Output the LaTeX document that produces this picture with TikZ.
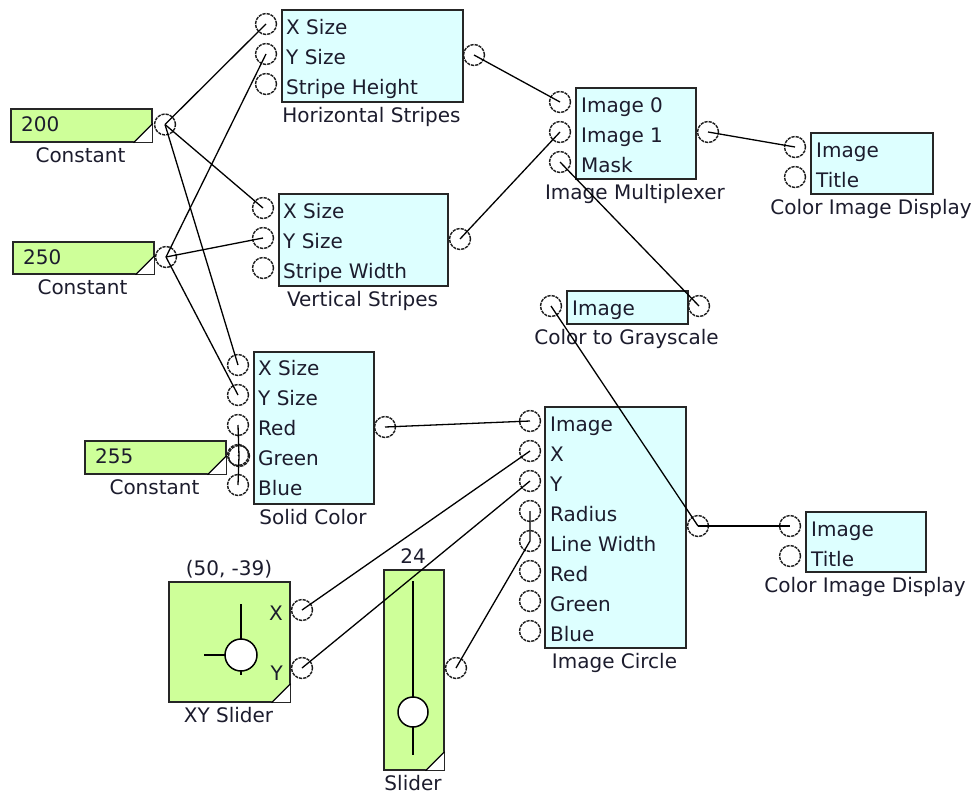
\documentclass[tikz,border=0pt]{standalone}
\usepackage{fontspec}
\setmainfont{DejaVu Sans}
\definecolor{boxcyan}{RGB}{221,255,255}
\definecolor{boxgreen}{RGB}{206,255,153}
\definecolor{ink}{RGB}{28,28,45}
\newcommand\cornertri[1]{%
  \fill[white] ([xshift=-19pt,yshift=0.8pt]#1.south east) -- ([xshift=-0.8pt,yshift=19pt]#1.south east) -- ([xshift=-0.8pt,yshift=0.8pt]#1.south east) -- cycle;
  \draw[line width=1.3pt] ([xshift=-19pt]#1.south east) -- ([yshift=19pt]#1.south east);}
\tikzset{
  every node/.style={font=\fontsize{20}{24}\selectfont, text=ink},
  fbox/.style={draw=black!85, line width=1.6pt, fill=boxcyan, anchor=north west, inner sep=0pt},
  gbox/.style={draw=black!85, line width=1.6pt, fill=boxgreen, anchor=north west, inner sep=0pt},
  port/.style={circle, draw=black!90, line width=1.4pt, dash pattern=on 3.2pt off 1pt, minimum size=21pt, inner sep=0pt},
  row/.style={anchor=base west, inner sep=0pt},
  lbl/.style={anchor=base, inner sep=0pt},
  wire/.style={draw=black, line width=1.3pt},
  knob/.style={circle, draw=black, line width=1.5pt, fill=white, inner sep=0pt},
}
\begin{document}
\begin{tikzpicture}[x=1pt,y=-1pt]
\useasboundingbox[fill=white] (0,0) rectangle (979,795);

% ---------- constants ----------
\node[gbox, minimum width=141pt, minimum height=33pt] (c200) at (10,108) {};
\node[row, anchor=west] (c200t) at (21,124.5) {200};
\cornertri{c200}
\node[lbl] (c200l) at (80.5,162.5) {Constant};
\node[port] (c200o) at (165,124.5) {};

\node[gbox, minimum width=141pt, minimum height=32pt] (c250) at (12,241) {};
\node[row, anchor=west] (c250t) at (23,257) {250};
\cornertri{c250}
\node[lbl] (c250l) at (82.5,294.5) {Constant};
\node[port] (c250o) at (166,257) {};

\node[gbox, minimum width=141pt, minimum height=33pt] (c255) at (84,440) {};
\node[row, anchor=west] (c255t) at (95,456.5) {255};
\cornertri{c255}
\node[lbl] (c255l) at (154.5,494.5) {Constant};
\node[port] (c255o) at (239,456) {};

% ---------- Horizontal Stripes ----------
\node[fbox, minimum width=181pt, minimum height=92pt] (hs) at (281,9) {};
\node[row] (hst1) at (286,34.5) {X Size};
\node[row] (hst2) at (286,64.5) {Y Size};
\node[row] (hst3) at (286,94.5) {Stripe Height};
\node[lbl] (hsl) at (371.5,122.5) {Horizontal Stripes};
\node[port] (hsx) at (266,24) {};
\node[port] (hsy) at (266,54) {};
\node[port] (hsh) at (266,84) {};
\node[port] (hso) at (474,55) {};

% ---------- Vertical Stripes ----------
\node[fbox, minimum width=169pt, minimum height=92pt] (vs) at (278,193) {};
\node[row] (vst1) at (283,218.5) {X Size};
\node[row] (vst2) at (283,248.5) {Y Size};
\node[row] (vst3) at (283,278.5) {Stripe Width};
\node[lbl] (vsl) at (362.5,306.5) {Vertical Stripes};
\node[port] (vsx) at (263,208) {};
\node[port] (vsy) at (263,238) {};
\node[port] (vsw) at (263,268) {};
\node[port] (vso) at (460,239) {};

% ---------- Image Multiplexer ----------
\node[fbox, minimum width=120pt, minimum height=91pt] (mux) at (575,87) {};
\node[row] (muxt1) at (581,112.5) {Image 0};
\node[row] (muxt2) at (581,142.5) {Image 1};
\node[row] (muxt3) at (581,172.5) {Mask};
\node[lbl] (muxl) at (635,199.5) {Image Multiplexer};
\node[port] (mux0) at (560,102) {};
\node[port] (mux1) at (560,132) {};
\node[port] (muxm) at (560,162) {};
\node[port] (muxo) at (708,132) {};

% ---------- Color Image Display 1 ----------
\node[fbox, minimum width=122pt, minimum height=61pt] (cida) at (810,132) {};
\node[row] (cidat1) at (816,157.5) {Image};
\node[row] (cidat2) at (816,187.5) {Title};
\node[lbl] (cidal) at (871,214.5) {Color Image Display};
\node[port] (cidai) at (795,147) {};
\node[port] (cidat) at (795,177) {};

% ---------- Color to Grayscale ----------
\node[fbox, minimum width=121pt, minimum height=33pt] (gray) at (566,290) {};
\node[row] (grayt) at (572,315.5) {Image};
\node[lbl] (grayl) at (626.5,344.5) {Color to Grayscale};
\node[port] (grayi) at (551,306) {};
\node[port] (grayo) at (699,306) {};

% ---------- Solid Color ----------
\node[fbox, minimum width=120pt, minimum height=152pt] (sc) at (253,351) {};
\node[row] (sct1) at (258,375.5) {X Size};
\node[row] (sct2) at (258,405.5) {Y Size};
\node[row] (sct3) at (258,435.5) {Red};
\node[row] (sct4) at (258,465.5) {Green};
\node[row] (sct5) at (258,495.5) {Blue};
\node[lbl] (scl) at (313,524.5) {Solid Color};
\node[port] (scx) at (238,365) {};
\node[port] (scy) at (238,395) {};
\node[port] (scr) at (238,425) {};
\node[port] (scg) at (238,455) {};
\node[port] (scb) at (238,485) {};
\node[port] (sco) at (385,427) {};

% ---------- Image Circle ----------
\node[fbox, minimum width=141pt, minimum height=241pt] (ic) at (544,406) {};
\node[row] (ict1) at (550,431.5) {Image};
\node[row] (ict2) at (550,461.5) {X};
\node[row] (ict3) at (550,491.5) {Y};
\node[row] (ict4) at (550,521.5) {Radius};
\node[row] (ict5) at (550,551.5) {Line Width};
\node[row] (ict6) at (550,581.5) {Red};
\node[row] (ict7) at (550,611.5) {Green};
\node[row] (ict8) at (550,641.5) {Blue};
\node[lbl] (icl) at (614.5,668.5) {Image Circle};
\node[port] (ici) at (530,421) {};
\node[port] (icx) at (530,451) {};
\node[port] (icy) at (530,481) {};
\node[port] (icr) at (530,511) {};
\node[port] (iclw) at (530,541) {};
\node[port] (icred) at (530,571) {};
\node[port] (icgreen) at (530,601) {};
\node[port] (icblue) at (530,631) {};
\node[port] (ico) at (698,526) {};

% ---------- Color Image Display 2 ----------
\node[fbox, minimum width=120pt, minimum height=60pt] (cidb) at (805,511) {};
\node[row] (cidbt1) at (811,536.5) {Image};
\node[row] (cidbt2) at (811,566.5) {Title};
\node[lbl] (cidbl) at (865,592.5) {Color Image Display};
\node[port] (cidbi) at (790,526) {};
\node[port] (cidbt) at (790,556) {};

% ---------- XY Slider ----------
\node[gbox, minimum width=121pt, minimum height=120pt] (xy) at (168,581) {};
\cornertri{xy}
\node[lbl] (xyv) at (229,575) {(50, -39)};
\node[lbl] (xyl) at (228.5,722.5) {XY Slider};
\node[row, anchor=base east] (xyxt) at (283,620) {X};
\node[row, anchor=base east] (xyyt) at (283,680) {Y};
\coordinate (xyvt) at (241,604);
\coordinate (xyvb) at (241,675);
\coordinate (xyhl) at (204,655);
\draw[line width=1.5pt] (xyvt) -- (xyvb);
\draw[line width=1.5pt] (xyhl) -- (241,655);
\node[knob, minimum size=32pt] (xyk) at (241,655) {};
\node[port] (xyx) at (302,610) {};
\node[port] (xyy) at (302,668) {};

% ---------- Slider ----------
\node[gbox, minimum width=60pt, minimum height=200pt] (sl) at (383,569) {};
\cornertri{sl}
\node[lbl] (slv) at (413,563) {24};
\node[lbl] (sll) at (413,790.5) {Slider};
\coordinate (slt) at (413,581);
\coordinate (slb) at (413,755);
\draw[line width=1.5pt] (slt) -- (slb);
\node[knob, minimum size=30pt] (slk) at (413,712) {};
\node[port] (slo) at (456,668) {};

% ---------- wires ----------
\draw[wire] (c200o.center) -- (hsx.center);
\draw[wire] (c200o.center) -- (vsx.center);
\draw[wire] (c200o.center) -- (scx.center);
\draw[wire] (c250o.center) -- (hsy.center);
\draw[wire] (c250o.center) -- (vsy.center);
\draw[wire] (c250o.center) -- (scy.center);
\draw[wire] (c255o.center) -- (scr.center);
\draw[wire] (c255o.center) -- (scg.center);
\draw[wire] (c255o.center) -- (scb.center);
\draw[wire] (hso.center) -- (mux0.center);
\draw[wire] (vso.center) -- (mux1.center);
\draw[wire] (muxo.center) -- (cidai.center);
\draw[wire] (grayo.center) -- (muxm.center);
\draw[wire] (ico.center) -- (grayi.center);
\draw[wire] (ico.center) -- (cidbi.center);
\draw[wire] (sco.center) -- (ici.center);
\draw[wire] (xyx.center) -- (icx.center);
\draw[wire] (xyy.center) -- (icy.center);
\draw[wire] (slo.center) -- (iclw.center) -- (icr.center);
\end{tikzpicture}
\end{document}
